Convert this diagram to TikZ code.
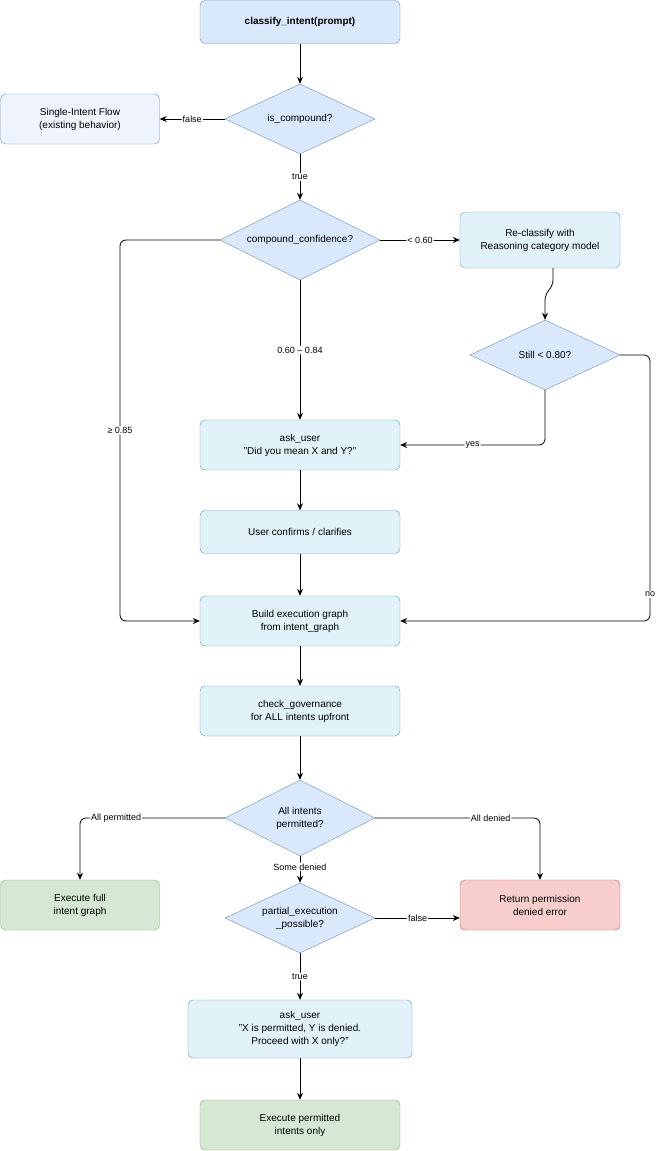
\documentclass[tikz,border=0pt]{standalone}
\usepackage{fontspec}
\setmainfont{Liberation Sans}
\usetikzlibrary{shapes.geometric,arrows.meta}
\definecolor{bfill}{HTML}{DAE8FC}\definecolor{bdraw}{HTML}{6C8EBF}
\definecolor{lfill}{HTML}{EEF3FD}
\definecolor{cfill}{HTML}{E1F2F8}\definecolor{cdraw}{HTML}{10739E}
\definecolor{gfill}{HTML}{D5E8D4}\definecolor{gdraw}{HTML}{82B366}
\definecolor{rfill}{HTML}{F8CECC}\definecolor{rdraw}{HTML}{B85450}
\begin{document}
\begin{tikzpicture}[x=1pt,y=-1pt,
 box/.style={draw, rounded corners=5pt, align=center, font=\fontsize{10}{13}\selectfont, inner sep=0pt},
 blue/.style={box, fill=bfill, draw=bdraw},
 cyan/.style={box, fill=cfill, draw=cdraw!70},
 dia/.style={diamond, aspect=2, draw=bdraw, fill=bfill, align=center, font=\fontsize{10}{13}\selectfont, inner sep=0pt},
 arr/.style={-{Stealth[length=7pt,width=6pt]}, rounded corners=6pt, line width=0.8pt},
 lab/.style={fill=white, font=\fontsize{9}{10}\selectfont, inner sep=1pt}]
\useasboundingbox (0,0) rectangle (659,1151);
\node[blue, minimum width=200pt, minimum height=43pt, font=\bfseries\fontsize{10}{13}\selectfont] (ci) at (300,22) {classify\_intent(prompt)};
\node[box, fill=lfill, draw=bdraw, minimum width=159pt, minimum height=50pt] (sif) at (80,119) {Single-Intent Flow\\(existing behavior)};
\node[dia, minimum width=150pt, minimum height=70pt] (isc) at (300,119) {is\_compound?};
\node[dia, minimum width=160pt, minimum height=80pt] (cc) at (300,240) {compound\_confidence?};
\node[cyan, minimum width=160pt, minimum height=56pt] (rc) at (540,240) {Re-classify with\\Reasoning category model};
\node[dia, minimum width=150pt, minimum height=70pt] (st) at (545,355) {Still < 0.80?};
\node[cyan, minimum width=200pt, minimum height=50pt] (a1) at (300,445) {ask\_user\\"Did you mean X and Y?"};
\node[cyan, minimum width=200pt, minimum height=43pt] (uc) at (300,532) {User confirms / clarifies};
\node[cyan, minimum width=200pt, minimum height=50pt] (be) at (300,621) {Build execution graph\\from intent\_graph};
\node[cyan, minimum width=200pt, minimum height=50pt] (cg) at (300,711) {check\_governance\\for ALL intents upfront};
\node[dia, minimum width=150pt, minimum height=76pt] (ai) at (300,818) {All intents\\permitted?};
\node[box, fill=gfill, draw=gdraw, minimum width=159pt, minimum height=50pt] (ef) at (80,905) {Execute full\\intent graph};
\node[box, fill=rfill, draw=rdraw, minimum width=160pt, minimum height=50pt] (rp) at (540,905) {Return permission\\denied error};
\node[dia, minimum width=150pt, minimum height=70pt] (pe) at (300,918) {partial\_execution\\\_possible?};
\node[cyan, minimum width=224pt, minimum height=58pt] (a2) at (300,1029) {ask\_user\\"X is permitted, Y is denied.\\Proceed with X only?"};
\node[box, fill=gfill, draw=gdraw, minimum width=200pt, minimum height=50pt] (ep) at (300,1125) {Execute permitted\\intents only};
\coordinate (c1) at (120,240); \coordinate (c2) at (120,621);
\coordinate (c3) at (650,355); \coordinate (c4) at (650,621);
\coordinate (c5) at (545,445);
\draw[arr] (ci) -- (isc);
\draw[arr] (isc) -- node[lab]{false} (sif);
\draw[arr] (isc) -- node[lab]{true} (cc);
\draw[arr] (cc) -- node[lab]{< 0.60} (rc);
\draw[arr] (cc) -- node[lab, pos=0.5]{0.60 – 0.84} (a1);
\draw[arr] (cc.west) -- (c1) -- node[lab]{≥ 0.85} (c2) -- (be.west);
\draw[arr] (rc.south -| 553,0) -- (553,286) -- (545,294) -- (st.north);
\draw[arr] (st.south) -- (c5) -- node[lab]{yes} (a1.east);
\draw[arr] (st.east) -- (c3) -- node[lab, pos=0.9]{no} (c4) -- (be.east);
\draw[arr] (a1) -- (uc);
\draw[arr] (uc) -- (be);
\draw[arr] (be) -- (cg);
\draw[arr] (cg) -- (ai);
\draw[arr] (ai.west) -- node[lab, pos=0.75]{All permitted} (ai.west -| ef) -- (ef.north);
\draw[arr] (ai.east) -- node[lab, pos=0.7]{All denied} (ai.east -| rp) -- (rp.north);
\draw[arr] (ai) -- node[lab, pos=0.4]{Some denied} (pe);
\draw[arr] (pe.east) -- node[lab]{false} (pe.east -| rp.west);
\draw[arr] (pe) -- node[lab]{true} (a2);
\draw[arr] (a2) -- (ep);
\end{tikzpicture}
\end{document}
